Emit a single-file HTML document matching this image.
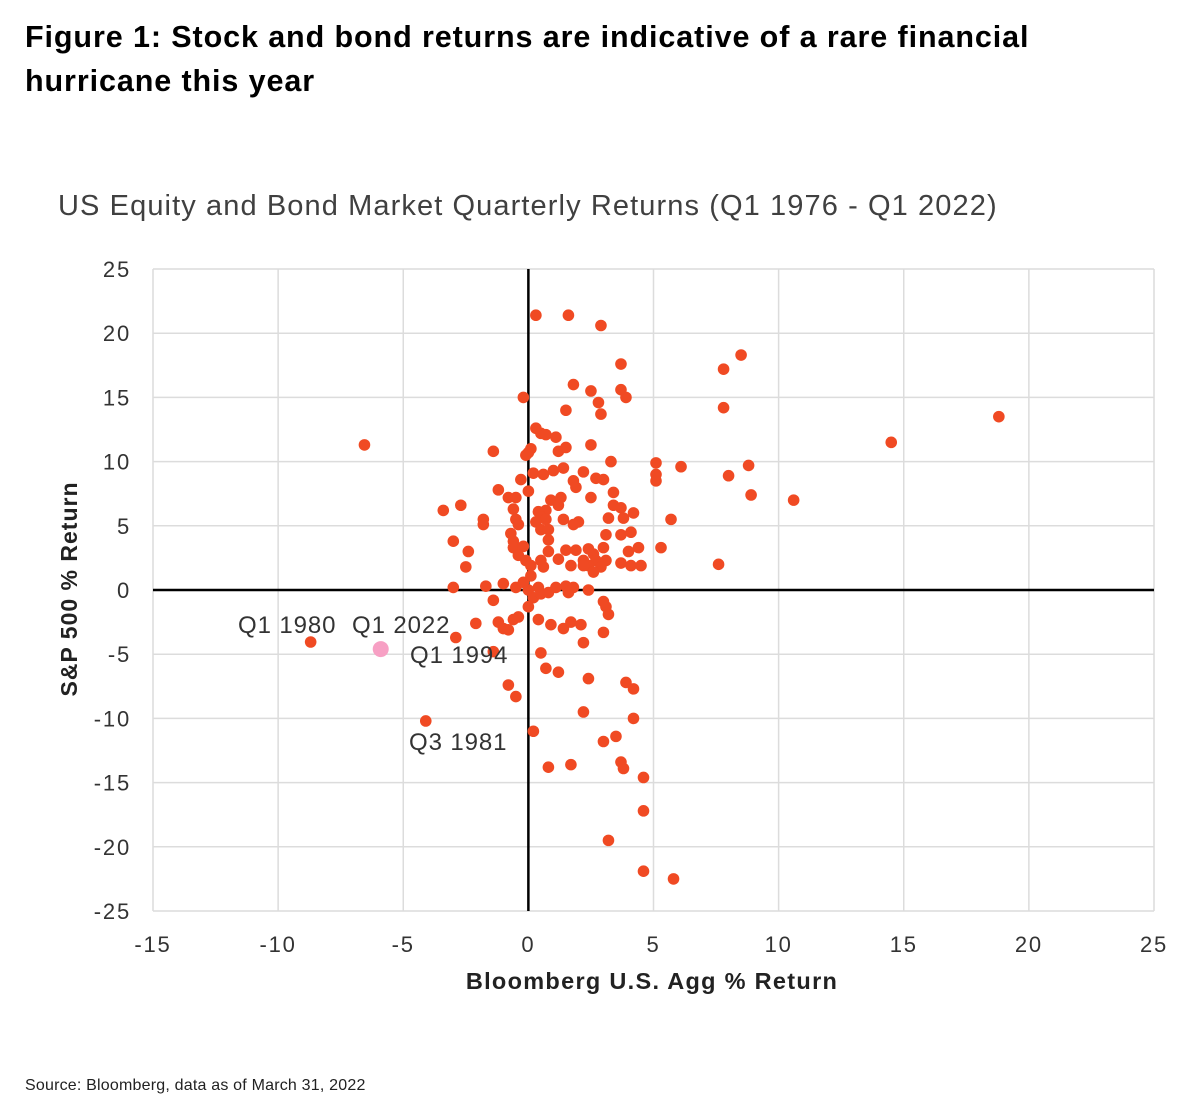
<!DOCTYPE html>
<html><head><meta charset="utf-8"><style>
body{margin:0;background:#fff;width:1196px;height:1120px;overflow:hidden;font-family:"Liberation Sans",sans-serif}
</style></head><body>
<div style="position:absolute;left:25px;top:15px;font-size:30.5px;font-weight:900;line-height:44px;color:#000;letter-spacing:0.9px">Figure 1: Stock and bond returns are indicative of a rare financial<br>hurricane this year</div>
<svg id="chart" width="1196" height="1120" style="position:absolute;left:0;top:0">
<text x="58" y="215" font-size="29" letter-spacing="1.1" fill="#404040" font-family="Liberation Sans, sans-serif">US Equity and Bond Market Quarterly Returns (Q1 1976 - Q1 2022)</text>
<g id="grid"></g><g id="axes"></g><g id="dots"></g><g id="labels"></g>
<text transform="translate(77,589) rotate(-90)" text-anchor="middle" font-size="23" letter-spacing="1" font-weight="bold" fill="#222">S&amp;P 500 % Return</text>
<text x="652" y="989" text-anchor="middle" font-size="23.5" letter-spacing="1.3" font-weight="bold" fill="#222">Bloomberg U.S. Agg % Return</text>
<text x="25" y="1090" font-size="16" letter-spacing="0.2" fill="#222">Source: Bloomberg, data as of March 31, 2022</text>
</svg>
<script>
const xTicks=[-15,-10,-5,0,5,10,15,20,25];
const yTicks=[25,20,15,10,5,0,-5,-10,-15,-20,-25];
const bondReturns=[-6.55,-8.7,-4.1,0.3,1.6,2.9,3.7,1.8,2.5,3.7,2.8,3.9,1.5,2.9,-0.2,0.3,0.5,0.7,1.1,-1.4,0.1,0,-0.1,1.2,1.5,2.5,3.3,5.1,5.1,5.1,6.1,8.8,8.0,0.2,0.6,1.0,1.4,2.2,2.7,3.0,1.8,1.9,-0.3,0,-1.2,-0.8,-0.5,-0.6,-0.5,0.9,0.7,1.2,1.3,2.5,3.4,3.4,3.7,4.2,3.2,3.8,5.7,-3.4,-2.7,-1.8,-1.8,-3.0,-2.4,-2.5,-3.0,-1.7,-1.0,-1.4,-0.7,-0.6,-0.6,-0.4,-0.2,-0.4,5.3,7.6,8.9,10.6,7.8,7.8,8.5,14.5,18.8,
-0.5,0,0.4,0.2,0.5,1.5,1.8,2.4,1.6,0.8,1.1,0,-0.2,0.1,-0.1,0.1,0.4,0.5,0.7,0.3,0.5,0.8,0.8,1.4,2.0,1.8,1.5,1.9,2.4,2.6,3.0,3.1,2.7,3.1,2.2,2.4,2.9,2.6,1.2,0.8,0.5,0.6,1.7,2.2,3.7,4.1,4.4,4.0,3.7,4.1,4.5,
-1.2,-1.0,-0.8,-0.4,-0.6,0.4,0.9,1.4,1.7,2.1,3.0,3.1,3.2,3.0,2.2,-2.9,-1.4,0.5,0.7,1.2,2.4,-0.8,-0.5,3.9,4.2,4.2,2.2,0.2,3.0,3.5,0.8,1.7,3.7,3.8,4.6,4.6,3.2,4.6,5.8,-2.1];
const stockReturns=[11.3,-4.05,-10.2,21.4,21.4,20.6,17.6,16.0,15.5,15.6,14.6,15.0,14.0,13.7,15.0,12.6,12.2,12.1,11.9,10.8,11.0,10.7,10.5,10.8,11.1,11.3,10.0,9.9,9.0,8.5,9.6,9.7,8.9,9.1,9.0,9.3,9.5,9.2,8.7,8.6,8.5,8.0,8.6,7.7,7.8,7.2,7.2,6.3,5.5,7.0,6.2,6.6,7.2,7.2,7.6,6.6,6.4,6.0,5.6,5.6,5.5,6.2,6.6,5.5,5.1,3.8,3.0,1.8,0.2,0.3,0.5,-0.8,4.4,3.8,3.3,5.1,3.4,2.7,3.3,2.0,7.4,7.0,14.2,17.2,18.3,11.5,13.5,
0.2,0,0.2,-0.6,-0.3,0.3,0.2,0,-0.2,-0.2,0.2,-1.3,0.6,1.1,2.3,1.9,6.1,5.7,5.5,5.3,4.7,4.7,3.9,5.5,5.3,5.1,3.1,3.1,3.2,2.8,3.3,4.3,2.3,2.3,2.3,1.9,1.8,1.4,2.4,3.0,2.3,1.8,1.9,1.9,4.3,4.5,3.3,3.0,2.1,1.9,1.9,
-2.5,-3.0,-3.1,-2.1,-2.3,-2.3,-2.7,-3.0,-2.5,-2.7,-0.9,-1.3,-1.9,-3.3,-4.1,-3.7,-4.8,-4.9,-6.1,-6.4,-6.9,-7.4,-8.3,-7.2,-7.7,-10.0,-9.5,-11.0,-11.8,-11.4,-13.8,-13.6,-13.4,-13.9,-14.6,-17.2,-19.5,-21.9,-22.5,-2.6];
const q12022=[-5.9,-4.6];
const annLabels=["Q1 1980","Q1 2022","Q1 1994","Q3 1981"];
const NS="http://www.w3.org/2000/svg";
const X0=153,X1=1154,Y0=269,Y1=911;
function sx(v){return X0+(v+15)/40*(X1-X0);}
function sy(v){return Y0+(25-v)/50*(Y1-Y0);}
function mk(tag,attrs,parent){const e=document.createElementNS(NS,tag);for(const k in attrs)e.setAttribute(k,attrs[k]);parent.appendChild(e);return e;}
const grid=document.getElementById('grid'),axes=document.getElementById('axes'),dots=document.getElementById('dots'),labels=document.getElementById('labels');
xTicks.forEach(t=>{
 const l=mk('line',{x1:sx(t),x2:sx(t),y1:Y0,y2:Y1,stroke:'#dcdcdc','stroke-width':1.5},grid);
 
 
 const tx=mk('text',{x:sx(t),y:952,'text-anchor':'middle','font-size':22,'letter-spacing':1.8,fill:'#333'},grid);
 tx.textContent=t;
 
 
});
yTicks.forEach(t=>{
 const l=mk('line',{x1:X0,x2:X1,y1:sy(t),y2:sy(t),stroke:'#dcdcdc','stroke-width':1.5},grid);
 
 
 const tx=mk('text',{x:131,y:sy(t)+8,'text-anchor':'end','font-size':22,'letter-spacing':1.8,fill:'#333'},grid);
 tx.textContent=t;
 
 
});
const ax=mk('line',{x1:X0,x2:X1,y1:sy(0),y2:sy(0),stroke:'#000','stroke-width':2.5},axes);


const ay=mk('line',{x1:sx(0),x2:sx(0),y1:Y0,y2:Y1,stroke:'#000','stroke-width':2.5},axes);


for(let i=0;i<bondReturns.length;i++){
 const c=mk('circle',{cx:sx(bondReturns[i]),cy:sy(stockReturns[i]),r:5.8,fill:'#f04a23'},dots);
 
 
}
const pk=mk('circle',{cx:sx(q12022[0]),cy:sy(q12022[1]),r:8,fill:'#f7a0c4'},dots);


const lp=[[238,633],[352,633],[410,663],[409,750]];
annLabels.forEach((s,i)=>{
 const t=mk('text',{x:lp[i][0],y:lp[i][1],'font-size':24,'letter-spacing':0.9,fill:'#333'},labels);
 t.textContent=s;
 
 
});
</script>
</body></html>
